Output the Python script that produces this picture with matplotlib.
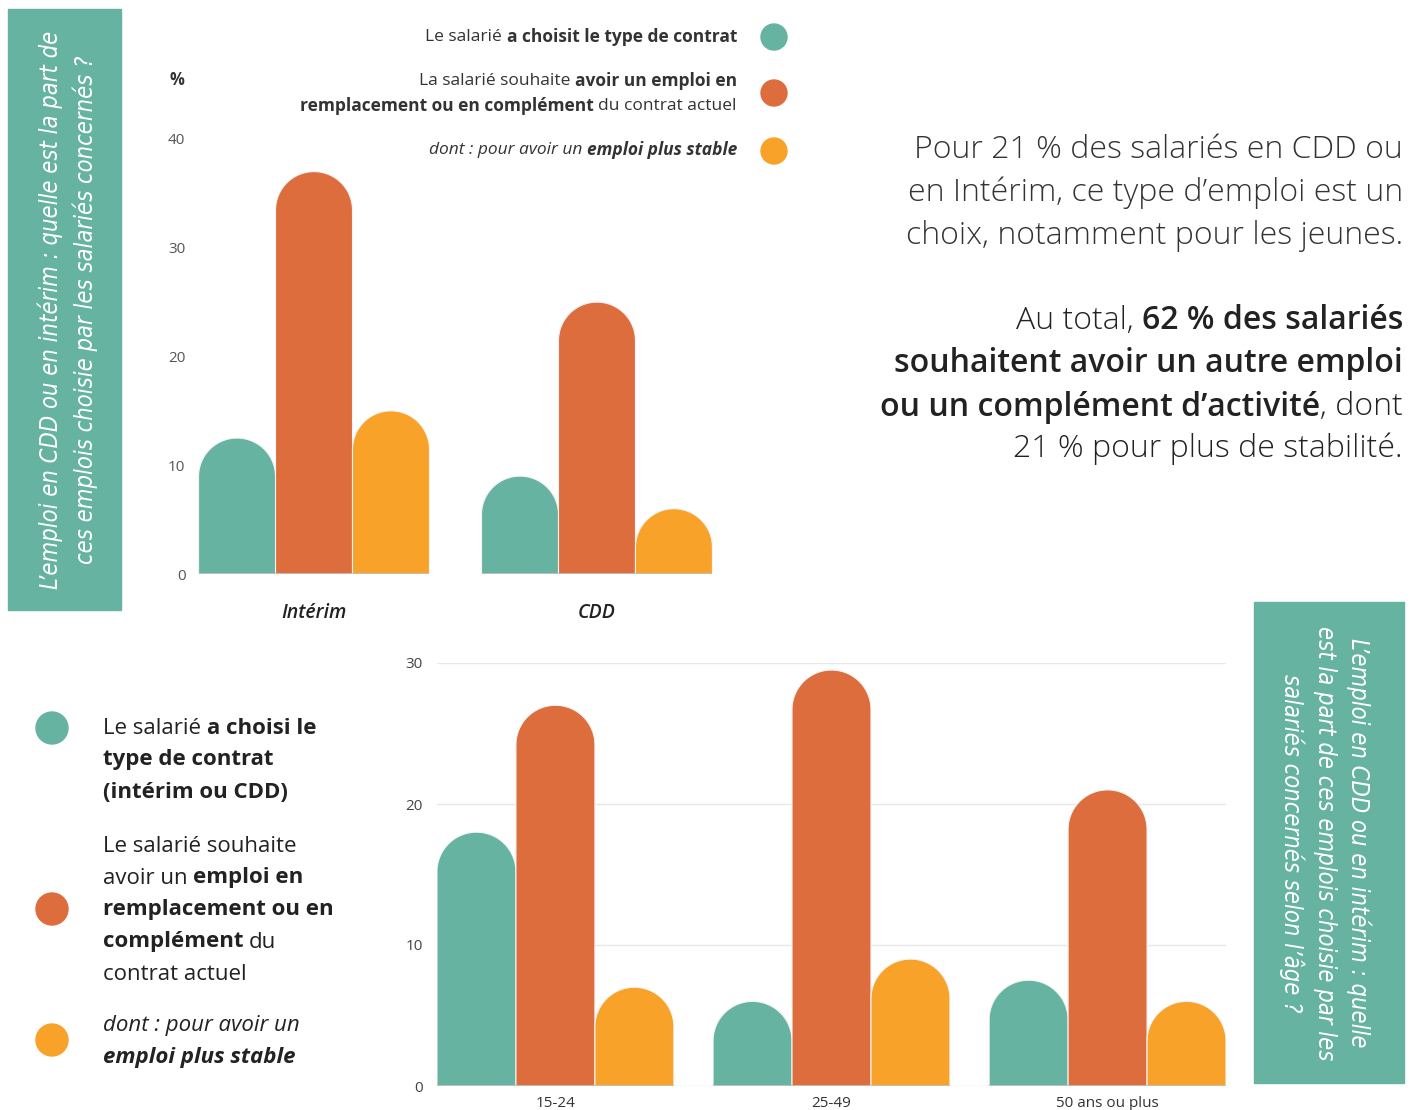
import numpy as np
import matplotlib.pyplot as plt
from matplotlib.patches import Polygon, Rectangle, Circle

plt.rcParams['font.family'] = ['Open Sans', 'DejaVu Sans']

W, H = 1419, 1110

# contrat : Intérim / CDD
contrats = ['Intérim', 'CDD']
choisi_contrat = [12.5, 9]
complement_contrat = [37, 25]
stable_contrat = [15, 6]
ticks_contrat = [0, 10, 20, 30, 40]

# selon l'âge
ages = ['15-24', '25-49', '50 ans ou plus']
choisi_age = [18, 6, 7.5]
complement_age = [27, 29.5, 21]
stable_age = [7, 9, 6]
ticks_age = [0, 10, 20, 30]

teal, orange, yellow = '#66b3a1', '#dd6d3c', '#f9a22a'
colors = [teal, orange, yellow]

fig = plt.figure(figsize=(W / 100, H / 100), dpi=100)
renderer = fig.canvas.get_renderer()


def fx(px):
    return px / W


def fy(py):
    return 1 - py / H


def axes_px(left, top, right, bottom):
    return fig.add_axes([fx(left), fy(bottom), fx(right) - fx(left), fy(top) - fy(bottom)])


def rounded_bars(ax, xs, values, width, color):
    # demi-cercle en haut de chaque barre, rayon = demi-largeur en pixels
    p0 = ax.transData.transform((0, 0))
    p1 = ax.transData.transform((1, 1))
    ppx, ppy = p1 - p0
    ry = (width / 2 * ppx) / ppy
    th = np.linspace(np.pi, 0, 80)
    for x, v in zip(xs, values):
        top = v - ry
        arc = np.column_stack([x + width / 2 * np.cos(th), top + ry * np.sin(th)])
        pts = np.vstack([[x - width / 2, 0], [x - width / 2, top], arc,
                         [x + width / 2, top], [x + width / 2, 0]])
        ax.add_patch(Polygon(pts, closed=True, facecolor=color,
                             edgecolor='#f4f4f4', lw=0.8, zorder=3))


def width_px(s, **kw):
    t = fig.text(0, 0, '|' + s + '|', **kw)
    w1 = t.get_window_extent(renderer).width
    t.set_text('||')
    w2 = t.get_window_extent(renderer).width
    t.remove()
    return w1 - w2


def rich(x, y, pieces, ha='left', size=11, color='#222', weight='normal', **kw):
    # pieces : (texte, graisse, style)
    items = []
    for s, w, st in pieces:
        w = w or weight
        props = dict(fontsize=size, fontweight=w, fontstyle=st, **kw)
        items.append((s, props, width_px(s, **props)))
    total = sum(i[2] for i in items)
    cur = x - total if ha == 'right' else x
    for s, props, w in items:
        lead = len(s) - len(s.lstrip())
        off = width_px(' ' * lead, **props) if lead else 0
        fig.text(fx(cur + off), fy(y), s.strip(), ha='left', va='center',
                 color=color, **props)
        cur += w


# --- graphique du haut : type de contrat
ax1 = axes_px(198, 139, 713, 574)
ax1.set_xlim(-0.41, 1.41)
ax1.set_ylim(0, 40)
bw1 = 0.272
x1 = np.arange(len(contrats))
for k, (vals, c) in enumerate(zip([choisi_contrat, complement_contrat, stable_contrat], colors)):
    rounded_bars(ax1, x1 + (k - 1) * bw1, vals, bw1, c)
for x in x1:
    ax1.hlines(0, x - 1.5 * bw1, x + 1.5 * bw1, color='#bbbbbb', lw=1.2, zorder=4)
ax1.set_yticks(ticks_contrat)
ax1.set_xticks(x1)
ax1.set_xticklabels(contrats, fontsize=14, fontstyle='italic', fontweight='semibold', color='#222')
ax1.tick_params(axis='y', length=0, pad=9, labelsize=11, labelcolor='#555')
ax1.tick_params(axis='x', length=0, pad=21)
for s in ax1.spines.values():
    s.set_visible(False)
fig.text(fx(177), fy(80), '%', fontsize=12, fontweight='bold', color='#333', ha='center', va='center')

# légende du haut
lt = dict(ha='right', size=12.5, color='#333')
rich(737, 37, [('Le salarié ', 'normal', 'normal'), ('a choisit le type de contrat', 'bold', 'normal')], **lt)
rich(737, 81, [('La salarié souhaite ', 'normal', 'normal'), ('avoir un emploi en', 'bold', 'normal')], **lt)
rich(737, 106, [('remplacement ou en complément', 'bold', 'normal'), (' du contrat actuel', 'normal', 'normal')], **lt)
rich(737, 150, [('dont : pour avoir un ', 'normal', 'italic'), ('emploi plus stable', 'bold', 'italic')], **lt)
for y, c in zip([37, 93, 151], colors):
    fig.patches.append(Circle((774, H - y), 13, color=c, transform=None))

# texte de droite
for y, line in zip([150, 193, 236], ['Pour 21 % des salariés en CDD ou',
                                     'en Intérim, ce type d\u2019emploi est un',
                                     'choix, notamment pour les jeunes.']):
    fig.text(fx(1403), fy(y), line, ha='right', va='center', fontsize=23,
             fontweight='light', color='#333')
pt = dict(ha='right', size=23, color='#222', weight='light')
rich(1403, 321, [('Au total, ', None, 'normal'), ('62 % des salariés', 'semibold', 'normal')], **pt)
rich(1403, 364, [('souhaitent avoir un autre emploi', 'semibold', 'normal')], **pt)
rich(1403, 407, [('ou un complément d\u2019activité', 'semibold', 'normal'), (', dont', None, 'normal')], **pt)
rich(1403, 449, [('21 % pour plus de stabilité.', None, 'normal')], **pt)

# --- graphique du bas : selon l'âge
ax2 = axes_px(437, 663, 1226, 1086)
ax2.set_xlim(-0.429, 2.429)
ax2.set_ylim(0, 30)
bw2 = 0.286
x2 = np.arange(len(ages))
for k, (vals, c) in enumerate(zip([choisi_age, complement_age, stable_age], colors)):
    rounded_bars(ax2, x2 + (k - 1) * bw2, vals, bw2, c)
for x in x2:
    ax2.hlines(0, x - 1.5 * bw2, x + 1.5 * bw2, color='#bbbbbb', lw=1.2, zorder=4)
ax2.set_yticks(ticks_age)
ax2.yaxis.grid(True, color='#e8e8e8', lw=1)
ax2.set_axisbelow(True)
ax2.set_xticks(x2)
ax2.set_xticklabels(ages, fontsize=11, color='#333', va='top')
ax2.tick_params(axis='y', length=0, pad=10, labelsize=11, labelcolor='#444')
ax2.tick_params(axis='x', length=0, pad=7)
for s in ax2.spines.values():
    s.set_visible(False)

# légende du bas
lg = dict(size=16, color='#222')
rich(103, 728, [('Le salarié ', 'normal', 'normal'), ('a choisi le', 'bold', 'normal')], **lg)
rich(103, 760, [('type de contrat', 'bold', 'normal')], **lg)
rich(103, 792, [('(intérim ou CDD)', 'bold', 'normal')], **lg)
rich(103, 846, [('Le salarié souhaite', 'normal', 'normal')], **lg)
rich(103, 878, [('avoir un ', 'normal', 'normal'), ('emploi en', 'bold', 'normal')], **lg)
rich(103, 910, [('remplacement ou en', 'bold', 'normal')], **lg)
rich(103, 942, [('complément', 'bold', 'normal'), (' du', 'normal', 'normal')], **lg)
rich(103, 974, [('contrat actuel', 'normal', 'normal')], **lg)
rich(103, 1025, [('dont : pour avoir un', 'normal', 'italic')], **lg)
rich(103, 1057, [('emploi plus stable', 'bold', 'italic')], **lg)
for y, c in zip([728, 909, 1040], colors):
    fig.patches.append(Circle((52, H - y), 16, color=c, transform=None))

# encadrés verticaux
box_font = dict(family=['DejaVu Sans'], fontstretch='condensed',
                fontstyle='italic', fontsize=17, color='white', ha='center', va='center',
                multialignment='center', linespacing=1.45)
fig.patches.append(Rectangle((fx(8), fy(610)), fx(121) - fx(8), fy(9) - fy(610),
                             transform=fig.transFigure, color=teal))
fig.text(fx(68), fy(310), 'L\u2019emploi en CDD ou en intérim : quelle est la part de\n'
         'ces emplois choisie par les salariés concernés ?', rotation=90, **box_font)
fig.patches.append(Rectangle((fx(1254), fy(1083)), fx(1404) - fx(1254), fy(602) - fy(1083),
                             transform=fig.transFigure, color=teal))
fig.text(fx(1325), fy(843), 'L\u2019emploi en CDD ou en intérim : quelle\n'
         'est la part de ces emplois choisie par les\n'
         'salariés concernés selon l\u2019âge ?', rotation=-90, **box_font)

fig.savefig('out.png', dpi=100)
